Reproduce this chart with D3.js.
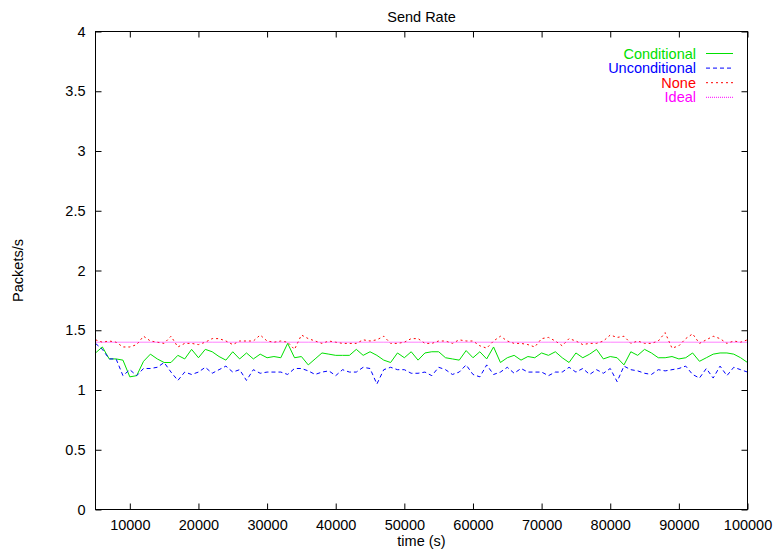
<!DOCTYPE html>
<html>
<head>
<meta charset="utf-8">
<script src="https://cdn.jsdelivr.net/npm/d3@7"></script>
<style>
  html, body { margin: 0; padding: 0; background: #fff; }
  svg { display: block; }
  text { font-family: "Liberation Sans", Arial, Helvetica, sans-serif; }
</style>
</head>
<body>
<svg id="chart" width="773" height="549"></svg>
<script>
// Sample times (s)
const times = [
  5000, 6000, 7000, 8000, 9000, 10000, 11000, 12000, 13000, 14000,
  15000, 16000, 17000, 18000, 19000, 20000, 21000, 22000, 23000, 24000,
  25000, 26000, 27000, 28000, 29000, 30000, 31000, 32000, 33000, 34000,
  35000, 36000, 37000, 38000, 39000, 40000, 41000, 42000, 43000, 44000,
  45000, 46000, 47000, 48000, 49000, 50000, 51000, 52000, 53000, 54000,
  55000, 56000, 57000, 58000, 59000, 60000, 61000, 62000, 63000, 64000,
  65000, 66000, 67000, 68000, 69000, 70000, 71000, 72000, 73000, 74000,
  75000, 76000, 77000, 78000, 79000, 80000, 81000, 82000, 83000, 84000,
  85000, 86000, 87000, 88000, 89000, 90000, 91000, 92000, 93000, 94000,
  95000, 96000, 97000, 98000, 99000, 100000
];

// Send rate (packets/s) per strategy
const conditional = [
  1.31, 1.36, 1.26, 1.26, 1.25, 1.11, 1.12, 1.24, 1.30, 1.26,
  1.23, 1.23, 1.29, 1.26, 1.34, 1.27, 1.34, 1.32, 1.28, 1.25,
  1.32, 1.26, 1.31, 1.26, 1.30, 1.27, 1.28, 1.27, 1.39, 1.27,
  1.28, 1.21, 1.26, 1.31, 1.30, 1.29, 1.29, 1.29, 1.34, 1.29,
  1.32, 1.29, 1.25, 1.23, 1.31, 1.27, 1.32, 1.25, 1.31, 1.32,
  1.32, 1.27, 1.26, 1.25, 1.33, 1.27, 1.32, 1.26, 1.36, 1.23,
  1.27, 1.29, 1.25, 1.28, 1.27, 1.31, 1.29, 1.32, 1.27, 1.23,
  1.31, 1.27, 1.30, 1.34, 1.26, 1.28, 1.27, 1.21, 1.32, 1.29,
  1.34, 1.31, 1.27, 1.27, 1.28, 1.26, 1.27, 1.31, 1.24, 1.27,
  1.30, 1.31, 1.31, 1.30, 1.27, 1.23
];
const unconditional = [
  1.39, 1.34, 1.26, 1.26, 1.12, 1.17, 1.12, 1.18, 1.18, 1.19,
  1.23, 1.15, 1.08, 1.15, 1.13, 1.15, 1.19, 1.14, 1.17, 1.20,
  1.15, 1.17, 1.08, 1.17, 1.14, 1.15, 1.15, 1.15, 1.13, 1.18,
  1.18, 1.16, 1.13, 1.15, 1.16, 1.12, 1.17, 1.15, 1.15, 1.19,
  1.18, 1.05, 1.17, 1.19, 1.17, 1.17, 1.14, 1.14, 1.15, 1.12,
  1.19, 1.17, 1.13, 1.15, 1.21, 1.13, 1.11, 1.21, 1.13, 1.15,
  1.19, 1.14, 1.18, 1.15, 1.15, 1.15, 1.12, 1.15, 1.15, 1.19,
  1.15, 1.18, 1.13, 1.17, 1.14, 1.18, 1.07, 1.20, 1.17, 1.16,
  1.14, 1.13, 1.17, 1.16, 1.17, 1.18, 1.20, 1.13, 1.10, 1.18,
  1.10, 1.20, 1.12, 1.19, 1.17, 1.15
];
const none = [
  1.42, 1.40, 1.41, 1.40, 1.36, 1.36, 1.38, 1.45, 1.41, 1.40,
  1.39, 1.45, 1.36, 1.39, 1.39, 1.38, 1.40, 1.43, 1.43, 1.41,
  1.38, 1.41, 1.41, 1.41, 1.46, 1.41, 1.40, 1.41, 1.40, 1.34,
  1.46, 1.43, 1.41, 1.39, 1.41, 1.40, 1.39, 1.39, 1.39, 1.42,
  1.41, 1.42, 1.45, 1.39, 1.39, 1.40, 1.43, 1.43, 1.39, 1.39,
  1.41, 1.41, 1.39, 1.42, 1.41, 1.41, 1.37, 1.35, 1.41, 1.45,
  1.41, 1.39, 1.39, 1.38, 1.36, 1.43, 1.44, 1.41, 1.37, 1.43,
  1.41, 1.38, 1.39, 1.39, 1.41, 1.46, 1.44, 1.45, 1.39, 1.41,
  1.39, 1.39, 1.41, 1.48, 1.35, 1.37, 1.43, 1.47, 1.39, 1.42,
  1.45, 1.43, 1.39, 1.41, 1.40, 1.42
];
const idealRate = 1.4;

const xTicks = [10000, 20000, 30000, 40000, 50000, 60000, 70000, 80000, 90000, 100000];
const yTicks = [0, 0.5, 1, 1.5, 2, 2.5, 3, 3.5, 4];

const series = [
  { name: "Conditional",   values: conditional,   color: "#00e000", dash: null },
  { name: "Unconditional", values: unconditional, color: "#0000ff", dash: "4,3" },
  { name: "None",          values: none,          color: "#ff0000", dash: "2,3" },
  { name: "Ideal",         values: times.map(() => idealRate), color: "#ff00ff", dash: "1,1" }
];

const svg = d3.select("#chart");
const plotLeft = 95.5, plotRight = 747.5, plotTop = 31.5, plotBottom = 509.5;

const x = d3.scaleLinear().domain([5000, 100000]).range([plotLeft, plotRight]);
const y = d3.scaleLinear().domain([0, 4]).range([plotBottom, plotTop]);

const fontSize = "14.5px";

// Axes: ticks point inward on all four sides
const axisStyle = g => {
  g.select(".domain").remove();
  g.selectAll(".tick line").attr("stroke", "#000").attr("stroke-width", 1);
  g.selectAll(".tick text").attr("fill", "#000").style("font-size", fontSize)
    .style("font-family", "'Liberation Sans', Arial, Helvetica, sans-serif");
};

svg.append("g")
  .attr("transform", `translate(0,${plotBottom})`)
  .call(d3.axisBottom(x).tickValues(xTicks).tickSize(-6).tickPadding(10).tickFormat(d3.format("d")))
  .call(axisStyle);
svg.append("g")
  .attr("transform", `translate(0,${plotTop})`)
  .call(d3.axisTop(x).tickValues(xTicks).tickSize(-6).tickFormat(""))
  .call(axisStyle);
svg.append("g")
  .attr("transform", `translate(${plotLeft},0)`)
  .call(d3.axisLeft(y).tickValues(yTicks).tickSize(-6).tickPadding(10).tickFormat(d3.format("")))
  .call(axisStyle);
svg.append("g")
  .attr("transform", `translate(${plotRight},0)`)
  .call(d3.axisRight(y).tickValues(yTicks).tickSize(-6).tickFormat(""))
  .call(axisStyle);

// Series lines
const line = d3.line()
  .x((d, i) => x(times[i]))
  .y(d => y(d));

series.forEach(s => {
  svg.append("path")
    .datum(s.values)
    .attr("fill", "none")
    .attr("stroke", s.color)
    .attr("stroke-width", 1)
    .attr("stroke-dasharray", s.dash)
    .attr("d", line);
});

// Frame
svg.append("rect")
  .attr("x", plotLeft).attr("y", plotTop)
  .attr("width", plotRight - plotLeft).attr("height", plotBottom - plotTop)
  .attr("fill", "none").attr("stroke", "#000").attr("stroke-width", 1);

// Legend
const legend = svg.append("g");
series.forEach((s, i) => {
  const by = 58.5 + i * 14.6;
  legend.append("text")
    .attr("x", 696).attr("y", by)
    .attr("text-anchor", "end")
    .attr("fill", s.color)
    .style("font-size", fontSize)
    .text(s.name);
  legend.append("line")
    .attr("x1", 706).attr("x2", 733)
    .attr("y1", by - 5).attr("y2", by - 5)
    .attr("stroke", s.color)
    .attr("stroke-width", 1)
    .attr("stroke-dasharray", s.dash);
});

// Titles
svg.append("text")
  .attr("x", (plotLeft + plotRight) / 2).attr("y", 22)
  .attr("text-anchor", "middle")
  .style("font-size", fontSize)
  .text("Send Rate");
svg.append("text")
  .attr("x", (plotLeft + plotRight) / 2).attr("y", 546)
  .attr("text-anchor", "middle")
  .style("font-size", fontSize)
  .text("time (s)");
svg.append("text")
  .attr("transform", `translate(23,${(plotTop + plotBottom) / 2}) rotate(-90)`)
  .attr("text-anchor", "middle")
  .style("font-size", fontSize)
  .text("Packets/s");
</script>
</body>
</html>
